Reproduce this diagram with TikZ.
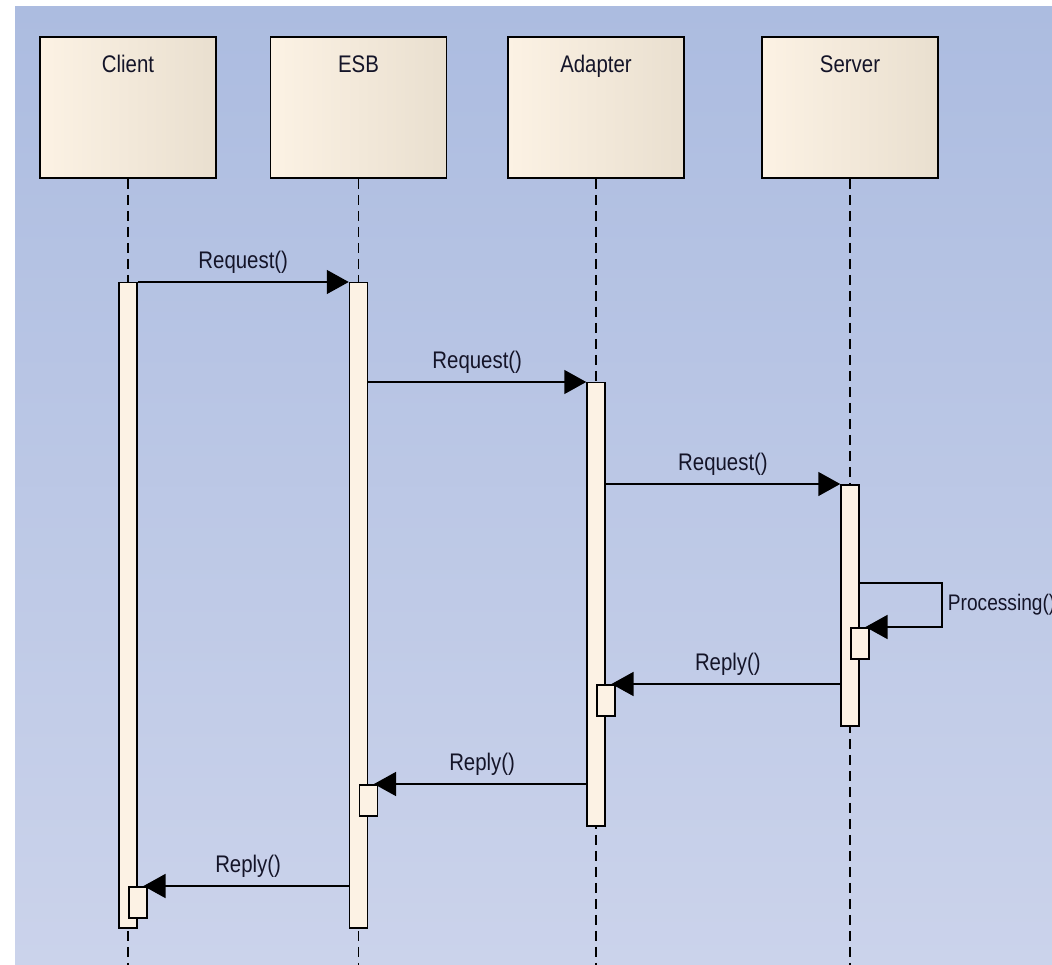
\documentclass[tikz,border=0pt]{standalone}
\usepackage{fontspec}
\setmainfont{Liberation Sans}[FakeStretch=0.85]
\usetikzlibrary{arrows.meta,positioning,calc}

\definecolor{bgtop}{RGB}{172,188,224}
\definecolor{bgbot}{RGB}{203,211,235}
\definecolor{creamL}{RGB}{252,242,228}
\definecolor{creamR}{RGB}{233,223,207}
\definecolor{barfill}{RGB}{252,242,228}
\definecolor{labtext}{RGB}{20,20,40}

\begin{document}
\begin{tikzpicture}[x=1pt, y=-1pt, >={Triangle[length=22pt,width=24pt]},
  font=\fontsize{24}{28}\selectfont,
  head/.style={draw, line width=1.8pt, left color=creamL, right color=creamR,
    minimum width=176pt, minimum height=141pt, inner sep=0pt},
  headlab/.style={inner sep=0pt, text=labtext},
  bar/.style={draw, line width=1.5pt, fill=barfill, minimum width=18pt,
    inner sep=0pt, anchor=north},
  retbox/.style={draw, line width=1.5pt, fill=barfill, minimum width=18pt,
    minimum height=31pt, inner sep=0pt, anchor=north west},
  life/.style={line width=1.6pt, dash pattern=on 10pt off 6pt},
  msg/.style={->, line width=1.5pt},
  ret/.style={msg, shorten >=-4pt},
  msglab/.style={inner sep=0pt, text=labtext}]
  \useasboundingbox (0,0) rectangle (1052,965);
  \fill[white] (0,0) rectangle (1052,965);
  \shade[top color=bgtop, bottom color=bgbot] (15,7) rectangle (1052,965);
  \coordinate (bottom) at (0,965);

  % lifeline heads
  \node[head] (client) at (128,107.5) {};
  \node[head] (esb) at (358.5,107.5) {};
  \node[head] (adapter) at (596,107.5) {};
  \node[head] (server) at (850,107.5) {};
  \node[headlab, below=19pt of client.north] {Client};
  \node[headlab, below=19pt of esb.north] {ESB};
  \node[headlab, below=19pt of adapter.north] {Adapter};
  \node[headlab, below=19pt of server.north] {Server};

  \foreach \n in {client,esb,adapter,server}
    \draw[life] (\n.south) -- (\n.south |- bottom);

  % activations
  \node[bar, minimum height=645pt] (clientbar) at (client.south |- 0,282) {};
  \node[bar, minimum height=645pt] (esbbar) at (esb.south |- 0,282) {};
  \node[bar, minimum height=443pt] (adapterbar) at (adapter.south |- 0,382) {};
  \node[bar, minimum height=241pt] (serverbar) at (server.south |- 0,484) {};

  \node[retbox] (serverret) at (server.south |- 0,627) {};
  \node[retbox] (adapterret) at (adapter.south |- 0,684) {};
  \node[retbox] (esbret) at (esb.south |- 0,784) {};
  \node[retbox] (clientret) at (client.south |- 0,886) {};

  % requests
  \draw[msg] (clientbar.north east) -- (esbbar.north west)
    node[msglab, midway, above=8pt] {Request()};
  \draw[msg] (esbbar.east |- adapterbar.north) -- (adapterbar.north west)
    node[msglab, midway, above=8pt] {Request()};
  \draw[msg] (adapterbar.east |- serverbar.north) -- (serverbar.north west)
    node[msglab, midway, above=8pt] {Request()};

  % self call
  \coordinate (selfcall) at (serverbar.east |- 0,583);
  \draw[ret] (selfcall) -- ++(82,0) coordinate (selfturn) |- (serverret.north east);
  \node[msglab, anchor=west, font=\fontsize{22.5}{27}\selectfont]
    at ($(selfturn)!0.5!(selfturn |- serverret.north)+(6,0)$) {Processing()};

  % replies
  \draw[ret] (serverbar.west |- adapterret.north) -- (adapterret.north east)
    node[msglab, midway, above=8pt] {Reply()};
  \draw[ret] (adapterbar.west |- esbret.north) -- (esbret.north east)
    node[msglab, midway, above=8pt] {Reply()};
  \draw[ret] (esbbar.west |- clientret.north) -- (clientret.north east)
    node[msglab, midway, above=8pt] {Reply()};
\end{tikzpicture}
\end{document}
